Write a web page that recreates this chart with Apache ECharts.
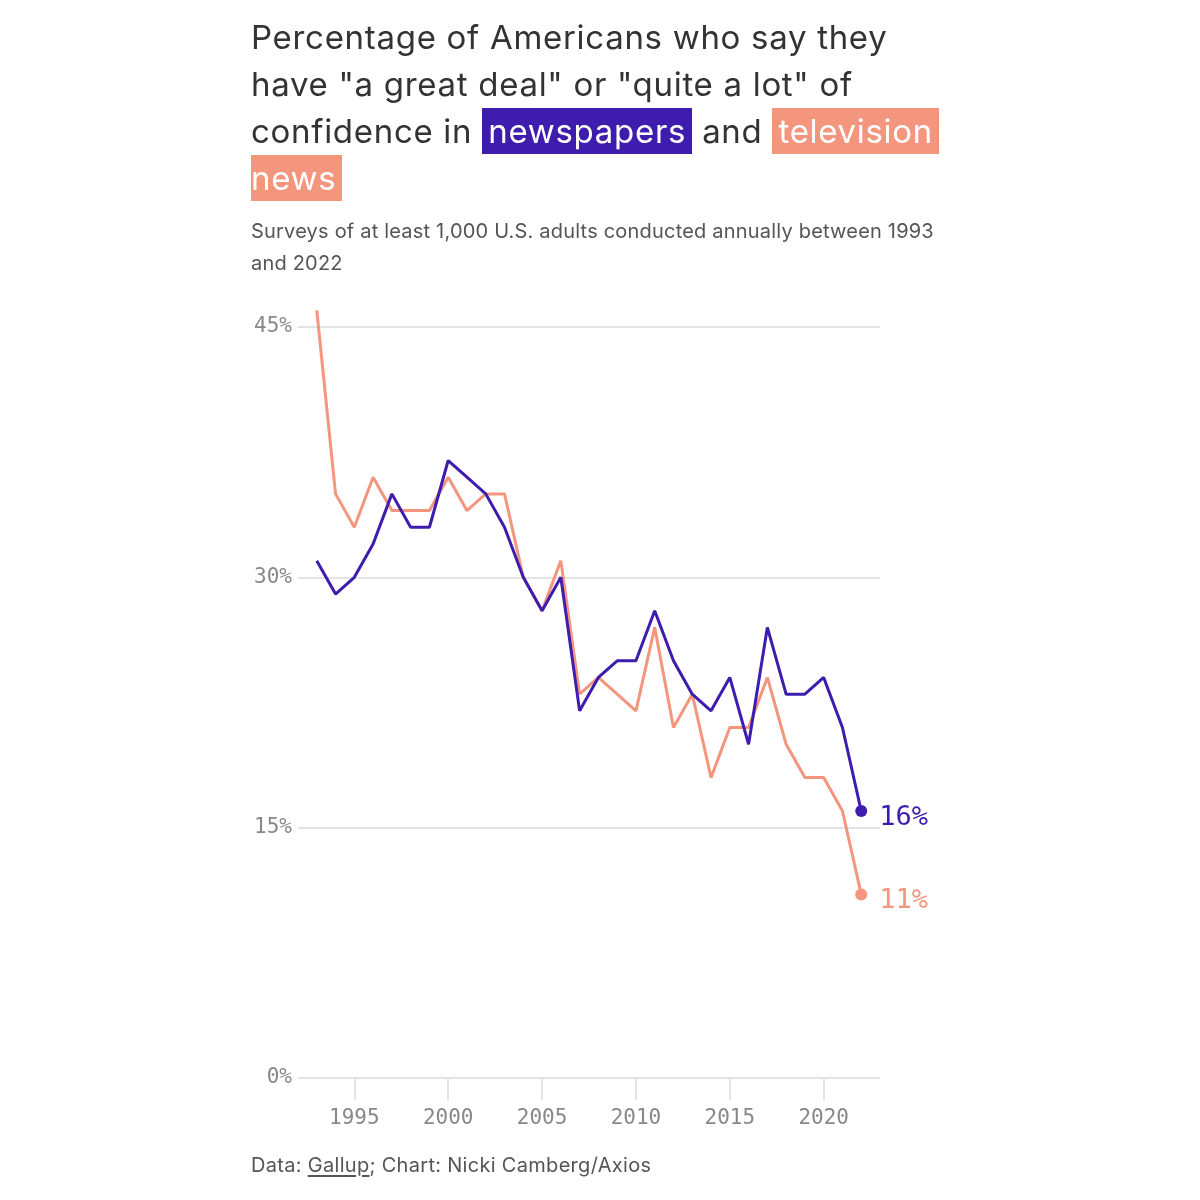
<!DOCTYPE html>
<html>
<head>
<meta charset="utf-8">
<script src="https://cdn.jsdelivr.net/npm/echarts@6/dist/echarts.min.js"></script>
<style>
  html, body { margin: 0; padding: 0; background: #fff; }
  #wrap { position: relative; width: 1200px; height: 1200px; }
  #chart { position: absolute; left: 0; top: 0; width: 1200px; height: 1200px; }
  .title {
    position: absolute; left: 251px; top: 14px; width: 760px;
    font-family: Inter, "Noto Sans", sans-serif; font-size: 33px; line-height: 47px;
    color: #333; letter-spacing: 0.7px;
  }
  .title .hl { color: #fff; padding: 3px 6px; }
  .title .np { background: #3d1cae; }
  .title .tv { background: #f4967d; }
  .sub {
    position: absolute; left: 251px; top: 215px; width: 760px;
    font-family: Inter, "Noto Sans", sans-serif; font-size: 20px; line-height: 32px;
    color: #555; letter-spacing: 0.2px;
  }
  .foot {
    position: absolute; left: 251px; top: 1153px;
    font-family: Inter, "Noto Sans", sans-serif; font-size: 20px; color: #555; letter-spacing: 0.3px;
  }
  .foot u { text-underline-offset: 3px; }
</style>
</head>
<body>
<div id="wrap">
  <div id="chart"></div>
  <div class="title">Percentage of Americans who say they<br>have "a great deal" or "quite a lot" of<br>confidence in <span class="hl np">newspapers</span> and <span class="hl tv">television</span><br><span class="hl tv" style="padding-left:0">news</span></div>
  <div class="sub">Surveys of at least 1,000 U.S. adults conducted annually between 1993<br>and 2022</div>
  <div class="foot">Data: <u>Gallup</u>; Chart: Nicki Camberg/Axios</div>
</div>
<script>
// Gallup confidence in institutions, % "great deal" + "quite a lot"
const years = [1993, 1994, 1995, 1996, 1997, 1998, 1999, 2000, 2001, 2002,
  2003, 2004, 2005, 2006, 2007, 2008, 2009, 2010, 2011, 2012,
  2013, 2014, 2015, 2016, 2017, 2018, 2019, 2020, 2021, 2022]
const newspapers = [31, 29, 30, 32, 35, 33, 33, 37, 36, 35,
  33, 30, 28, 30, 22, 24, 25, 25, 28, 25,
  23, 22, 24, 20, 27, 23, 23, 24, 21, 16]
const tvNews = [46, 35, 33, 36, 34, 34, 34, 36, 34, 35,
  35, 30, 28, 31, 23, 24, 23, 22, 27, 21,
  23, 18, 21, 21, 24, 20, 18, 18, 16, 11]
const yearTicks = [1995, 2000, 2005, 2010, 2015, 2020]

const PURPLE = '#3d1cae'
const SALMON = '#f4967d'
const MONO = '"DejaVu Sans Mono", monospace'

const pairs = (vals) => years.map((y, i) => [y, vals[i]])
const last = years.length - 1

function lineSeries(name, vals, color) {
  return {
    name,
    type: 'line',
    data: pairs(vals),
    clip: false,
    showSymbol: false,
    lineStyle: { color, width: 3 },
    itemStyle: { color },
    z: name === 'Newspapers' ? 3 : 2,
    endLabel: {
      show: true,
      formatter: (p) => p.value[1] + '%',
      color,
      fontFamily: MONO,
      fontSize: 27,
      distance: 18,
      offset: [0, 7],
    },
  }
}

function endDot(vals, color) {
  return {
    type: 'scatter',
    data: [[years[last], vals[last]]],
    symbolSize: 12,
    itemStyle: { color, opacity: 1 },
    z: 4,
    silent: true,
  }
}

const chart = echarts.init(document.getElementById('chart'), null, { renderer: 'canvas' })
chart.setOption({
  animation: false,
  grid: { left: 298, right: 320, top: 327, bottom: 122 },
  xAxis: {
    type: 'value',
    min: 1992,
    max: 2023,
    axisLine: { show: false },
    splitLine: { show: false },
    axisTick: {
      show: true,
      customValues: yearTicks,
      length: 22,
      lineStyle: { color: '#e3e3e3', width: 2 },
    },
    axisLabel: {
      customValues: yearTicks,
      formatter: (v) => String(v),
      color: '#888',
      fontFamily: MONO,
      fontSize: 21,
      margin: 30,
    },
  },
  yAxis: {
    type: 'value',
    min: 0,
    max: 45,
    interval: 15,
    axisLine: { show: false },
    axisTick: { show: false },
    splitLine: { lineStyle: { color: '#e3e3e3', width: 2 } },
    axisLabel: {
      formatter: '{value}%',
      color: '#888',
      fontFamily: MONO,
      fontSize: 21,
      margin: 6,
      padding: [4, 0, 0, 0],
    },
  },
  series: [
    lineSeries('Television news', tvNews, SALMON),
    lineSeries('Newspapers', newspapers, PURPLE),
    endDot(tvNews, SALMON),
    endDot(newspapers, PURPLE),
  ],
})
</script>
</body>
</html>
